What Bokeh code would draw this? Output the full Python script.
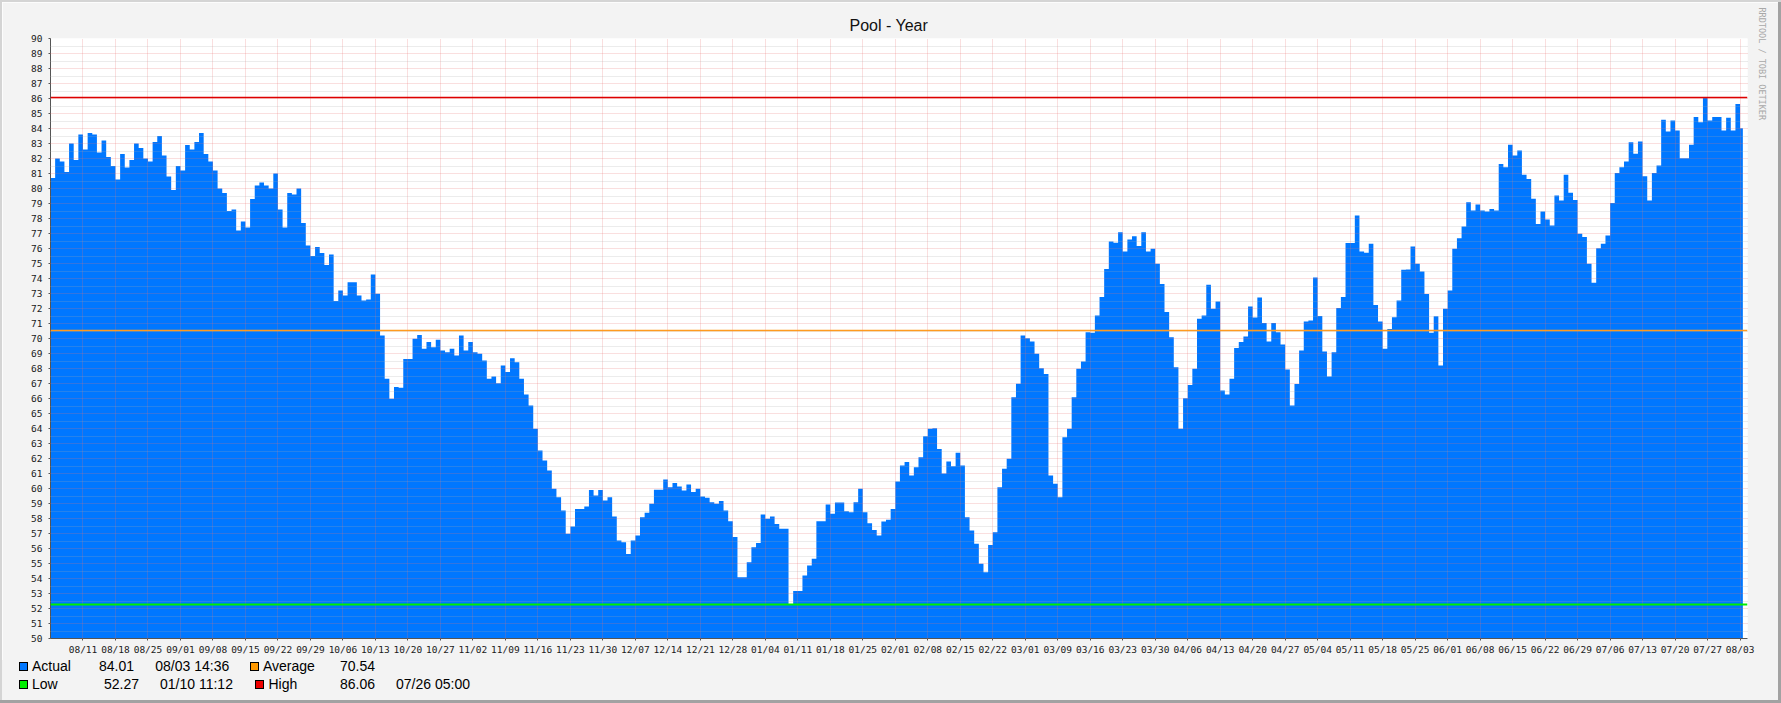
import numpy as np
from bokeh.plotting import figure
from bokeh.layouts import column, row
from bokeh.models import Range1d, FixedTicker, Span, Title, Div
from bokeh.embed import file_html
from bokeh.resources import INLINE

# ---------------- data ----------------
title_text = "Pool - Year"
watermark_text = "RRDTOOL / TOBI OETIKER"

week_labels = ["08/11", "08/18", "08/25", "09/01", "09/08", "09/15", "09/22", "09/29",
               "10/06", "10/13", "10/20", "10/27", "11/02", "11/09", "11/16", "11/23",
               "11/30", "12/07", "12/14", "12/21", "12/28", "01/04", "01/11", "01/18",
               "01/25", "02/01", "02/08", "02/15", "02/22", "03/01", "03/09", "03/16",
               "03/23", "03/30", "04/06", "04/13", "04/20", "04/27", "05/04", "05/11",
               "05/18", "05/25", "06/01", "06/08", "06/15", "06/22", "06/29", "07/06",
               "07/13", "07/20", "07/27", "08/03"]
week_days = list(range(7, 365, 7))          # day offsets of the weekly labels

y_ticks = list(range(50, 91))

# daily pool temperature, day 0 = 08/04
pool_aug_oct = [80.7, 82.0, 81.8, 81.1, 83.0, 81.9, 83.6, 82.6, 83.7, 83.6,
                82.4, 83.2, 82.1, 81.5, 80.6, 82.3, 81.4, 81.9, 83.0, 82.7,
                82.0, 81.8, 83.1, 83.5, 82.2, 80.8, 79.9, 81.5, 81.2, 82.9,
                82.6, 83.1, 83.7, 82.3, 81.8, 81.2, 80.0, 79.7, 78.5, 78.6,
                77.2, 77.8, 77.4, 79.3, 80.2, 80.4, 80.2, 80.0, 81.0, 78.6,
                77.4, 79.7, 79.6, 80.0, 77.7, 76.2, 75.5, 76.1, 75.7, 74.9,
                75.6, 72.5, 73.2]
pool_oct_dec = [72.87, 73.75, 73.75, 72.87, 72.53, 72.6, 74.27, 72.98, 70.2, 67.31,
                65.98, 66.76, 66.71, 68.64, 68.64, 69.98, 70.24, 69.31, 69.76, 69.42,
                69.91, 69.2, 69.09, 69.31, 68.87, 70.2, 69.2, 69.76, 69.09, 68.98,
                68.53, 67.31, 67.47, 67.02, 68.2, 67.76, 68.69, 68.42, 67.31, 66.27,
                65.53, 63.98, 62.53, 61.87, 61.2, 59.98, 59.42, 58.53, 56.98, 57.47,
                58.64, 58.64, 58.8, 59.9, 59.53, 59.9, 59.2, 59.42, 58.13, 56.53,
                56.42, 55.64]
pool_dec_feb = [56.53, 56.87, 58.09, 58.38, 58.98, 59.91, 59.91, 60.6, 60.09, 60.36,
                60.13, 59.87, 60.27, 59.76, 59.98, 59.47, 59.38, 59.09, 58.98, 59.16,
                58.53, 57.82, 56.76, 54.09, 54.09, 55.09, 56.09, 56.36, 58.27, 57.98,
                58.13, 57.64, 57.31, 57.31, 52.27, 53.16, 53.16, 54.2, 54.87, 55.31,
                57.82, 57.82, 58.93, 58.31, 59.07, 59.07, 58.49, 58.42, 59.09, 59.98,
                58.42, 57.69, 57.24, 56.87, 57.8, 57.91, 58.64, 60.47, 61.53, 61.76,
                60.87, 61.42, 62.09]
pool_feb_apr = [63.49, 63.98, 64.02, 62.64, 61.0, 61.8, 61.49, 62.38, 61.53, 58.09,
                57.2, 56.31, 54.98, 54.42, 56.24, 57.09, 60.09, 61.31, 61.98, 66.09,
                66.98, 70.2, 70.02, 69.8, 68.98, 68.02, 67.64, 60.87, 60.31, 59.42,
                63.42, 63.98, 66.09, 67.98, 68.47, 70.42, 70.38, 71.53, 72.76, 74.64,
                76.47, 76.38, 77.09, 75.8, 76.6, 76.82, 76.16, 77.09, 75.8, 75.98,
                74.98, 73.64, 71.76, 70.09, 68.09, 63.98, 66.02]
pool_apr_jun = [66.9, 67.98, 71.31, 71.53, 73.58, 71.98, 72.47, 66.53, 66.27, 67.31,
                69.36, 69.76, 70.13, 72.13, 71.4, 72.73, 71.04, 69.8, 71.04, 70.42,
                69.6, 67.93, 65.53, 66.96, 69.2, 71.13, 71.2, 74.07, 71.5, 69.13,
                67.47, 69.09, 72.04, 72.76, 76.36, 76.36, 78.2, 75.8, 75.71, 76.31,
                72.24, 71.13, 69.31, 70.64, 71.42, 72.53, 74.58, 74.6, 76.13, 74.98,
                74.47, 72.96, 70.38, 71.49, 68.2, 71.98, 73.2, 75.98, 76.69, 77.47,
                79.09, 78.53]
pool_jun_aug = [78.93, 78.53, 78.47, 78.64, 78.53, 81.64, 81.42, 82.91, 82.2, 82.53,
                80.91, 80.64, 79.31, 77.64, 78.47, 77.93, 77.53, 79.53, 79.2, 80.91,
                79.71, 79.24, 76.98, 76.76, 74.98, 73.71, 76.02, 76.31, 76.87, 79.04,
                81.04, 81.42, 81.8, 83.09, 82.31, 83.13, 80.82, 79.2, 81.04, 81.53,
                84.58, 83.8, 84.53, 83.87, 82.02, 82.02, 82.91, 84.76, 84.42, 86.06,
                84.53, 84.76, 84.76, 83.87, 84.71, 83.87, 85.64, 84.01]
last_sample_day = 364.6

actual_value, actual_time = "84.01", "08/03 14:36"
average_value = 70.54
low_value, low_time = 52.27, "01/10 11:12"
high_value, high_time = 86.06, "07/26 05:00"

# legend table
legend_names = ["Actual", "Average", "Low", "High"]
legend_numbers = [actual_value, f"{average_value:.2f}", f"{low_value:.2f}", f"{high_value:.2f}"]
legend_times = [actual_time, "", low_time, high_time]

# ---------------- colours ----------------
c_area = "#0077ff"
c_avg = "#ff9a1f"
c_low = "#00ee00"
c_high = "#dd0000"
swatch_colors = ["#0077ff", "#ff9900", "#00ee00", "#ee0000"]
bg = "#f3f3f3"
edge_light = "#d4d4d4"
edge_dark = "#a2a2a2"

pool = (pool_aug_oct + pool_oct_dec + pool_dec_feb +
        pool_feb_apr + pool_apr_jun + pool_jun_aug)
days = np.arange(len(pool), dtype=float)
xs = np.append(days, last_sample_day)
ys = np.append(np.array(pool), pool[-1])

TOTAL_W, TOTAL_H = 1781, 703
EDGE_TL, EDGE_BR = 2, 3
INNER_W = TOTAL_W - EDGE_TL - EDGE_BR      # 1776
INNER_H = TOTAL_H - EDGE_TL - EDGE_BR      # 698
PLOT_H = 658
LEG_H = INNER_H - PLOT_H                   # 40

p = figure(width=INNER_W, height=PLOT_H,
           x_range=Range1d(0, 365.6), y_range=Range1d(50, 90),
           output_backend="svg", toolbar_location=None,
           min_border_left=48, min_border_right=26,
           min_border_top=36, min_border_bottom=22,
           background_fill_color="white", border_fill_color=bg,
           outline_line_color=None)

if hasattr(p, "varea_step"):
    p.varea_step(x=xs, y1=50, y2=ys, step_mode="after", fill_color=c_area)
else:
    sx = np.repeat(xs, 2)[1:]
    sy = np.repeat(ys, 2)[:-1]
    p.varea(x=sx, y1=50, y2=sy, fill_color=c_area)

# axes
p.xaxis.ticker = FixedTicker(ticks=week_days, minor_ticks=[])
p.xaxis.major_label_overrides = {d: lab for d, lab in zip(week_days, week_labels)}
p.yaxis.ticker = FixedTicker(ticks=y_ticks,
                             minor_ticks=[v + 0.5 for v in y_ticks[:-1]])
for ax in (p.xaxis[0], p.yaxis[0]):
    ax.axis_line_color = "#555555"
    ax.major_tick_line_color = "#555555"
    ax.major_tick_out = 2
    ax.major_tick_in = 0
    ax.minor_tick_line_color = None
    ax.major_label_text_font = "DejaVu Sans Mono"
    ax.major_label_text_font_size = "9.5px"
    ax.major_label_text_color = "#1a1a1a"
p.xaxis.major_label_standoff = 3
p.yaxis.major_label_standoff = 4

# grid drawn on top of the area
for g in (p.xgrid[0], p.ygrid[0]):
    g.level = "guide"
    g.grid_line_color = "#e87070"
    g.grid_line_alpha = 0.45
    g.grid_line_dash = "1 1"
p.ygrid.minor_grid_line_color = "#a8a8a8"
p.ygrid.minor_grid_line_alpha = 0.45
p.ygrid.minor_grid_line_dash = "1 1"

# reference lines
p.add_layout(Span(location=average_value, dimension="width", line_color=c_avg, line_width=1.5))
p.add_layout(Span(location=low_value, dimension="width", line_color=c_low, line_width=2))
p.add_layout(Span(location=high_value, dimension="width", line_color=c_high, line_width=1.5))

# title and vertical watermark
p.add_layout(Title(text=title_text, align="left", offset=799, standoff=10,
                   text_font="Liberation Sans", text_font_size="16px",
                   text_font_style="normal", text_color="#111111"), "above")
p.add_layout(Title(text=watermark_text, align="left", offset=-31, standoff=19,
                   text_font="DejaVu Sans Mono", text_font_size="8.5px",
                   text_font_style="normal", text_color="#a8a8a8"), "right")

# ---------------- legend strip (HTML) ----------------
sw_left = [17, 247.5, 17, 253]
sw_top = [1.5, 1.5, 19.5, 19.5]
row_mid = [6, 6, 23.5, 23.5]
name_x = [30, 261, 30, 266.5]
num_x = [97, 338, 102, 338]
time_x = [153.3, 0, 158, 394]

font_css = ('font-family:"Liberation Sans",Arial,sans-serif;font-size:14px;'
            'line-height:16px;color:#000;white-space:nowrap;')
parts = []
for i in range(4):
    parts.append(
        f"<div style='position:absolute;left:{sw_left[i]}px;top:{sw_top[i]}px;"
        f"width:9px;height:9px;background:{swatch_colors[i]};border:1px solid #000;'></div>")
    items = [(name_x[i], legend_names[i]), (num_x[i], legend_numbers[i])]
    if legend_times[i]:
        items.append((time_x[i], legend_times[i]))
    for x, t in items:
        parts.append(f"<div style='position:absolute;left:{x}px;top:{row_mid[i] - 8}px;{font_css}'>{t}</div>")

legend_html = (f"<div style='position:relative;width:{INNER_W}px;height:{LEG_H}px;background:{bg};margin:0;padding:0;'>"
               + "".join(parts) + "</div>")
legend_div = Div(text=legend_html, width=INNER_W, height=LEG_H,
                 styles={"background-color": bg, "margin": "0", "padding": "0"})


def strip(w, h, color):
    return Div(text="", width=w, height=h,
               styles={"background-color": color, "margin": "0", "padding": "0"})


middle = row(strip(EDGE_TL, INNER_H, edge_light),
             column(p, legend_div, spacing=0),
             strip(EDGE_BR, INNER_H, edge_dark), spacing=0)
layout = column(strip(TOTAL_W, EDGE_TL, edge_light), middle,
                strip(TOTAL_W, EDGE_BR, edge_dark), spacing=0)
open("out.html", "w").write(file_html(layout, INLINE))
